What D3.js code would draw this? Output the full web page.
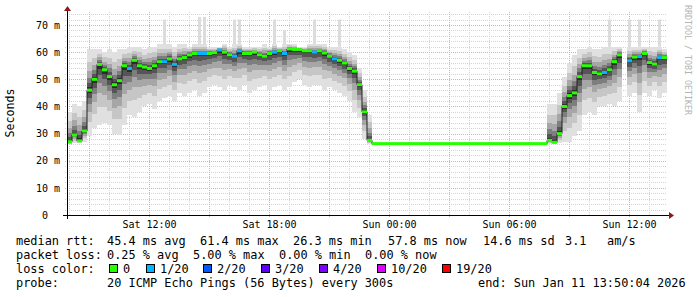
<!DOCTYPE html>
<html>
<head>
<meta charset="utf-8">
<script src="https://cdn.jsdelivr.net/npm/d3@7"></script>
<style>
  body { margin: 0; background: #fff; }
  svg text { font-family: "DejaVu Sans Mono", monospace; }
</style>
</head>
<body>
<div id="smokeGraph"></div>
<script>
/*Values, one entry per 15 minute step*/
const stepStart = new Date(2026, 0, 10, 7, 54);
const stepMinutes = 15;

/*median rtt in ms (null = no data)*/
const medianRtt = [
  27, 29.5, 27.3, 31, 46, 50, 55.5, 53.5, 51, 48,
  49.5, 55, 54, 57, 55, 54.5, 54, 55, 56.5, 56.5,
  57.5, 55.5, 57.5, 58, 59, 59.5, 59.5, 59.5, 59.5, 59.8,
  60.8, 60, 59, 58.5, 60.5, 59.5, 59.5, 60, 59, 58.5,
  59.5, 60, 60.5, 59.5, 61.2, 61, 61, 60.5, 60.5, 60,
  60.5, 59.7, 58.5, 57.5, 57, 56, 54, 53, 48, 38,
  27.5, 26.3, 26.3, 26.3, 26.3, 26.3, 26.3, 26.3, 26.3, 26.3,
  26.3, 26.3, 26.3, 26.3, 26.3, 26.3, 26.3, 26.3, 26.3, 26.3,
  26.3, 26.3, 26.3, 26.3, 26.3, 26.3, 26.3, 26.3, 26.3, 26.3,
  26.3, 26.3, 26.3, 26.3, 26.3, 26.3, 27.5, 26.8, 30, 40,
  44, 45, 51, 55, 55, 52.5, 52, 52.5, 53.5, 56.5,
  59, null, 56.8, 58.2, 58.4, 59.5, 56.2, 55.6, 58, 58
];

/*lowest ping of each step (bottom of the smoke)*/
const smokeLow = [
  26, 26.5, 26.5, 27, 29, 32, 33, 34, 33, 30,
  29.5, 33, 37, 36, 38, 40, 41, 39, 42, 43,
  44, 42, 45, 44, 45, 46, 44, 45, 47, 48,
  47, 46, 48, 47, 46, 48, 45, 46, 47, 48,
  46, 47, 48, 46, 47, 49, 50, 48, 47, 48,
  48, 46, 47, 46, 45, 44, 42, 38, 36, 28,
  26.3, null, null, null, null, null, null, null, null, null,
  null, null, null, null, null, null, null, null, null, null,
  null, null, null, null, null, null, null, null, null, null,
  null, null, null, null, null, null, 26.3, 26.3, 26.5, 27,
  27, 29, 31, 37, 38, 37, 40, 40, 41, 40,
  42, null, 44, 45, 38, 45, 44, 46, 43, 45
];

/*highest regular ping of each step (top of the smoke)*/
const smokeHigh = [
  38, 41, 40, 42, 61, 61, 61, 60, 61, 60,
  61, 61, 62, 62, 62, 61, 62, 62, 63, 63,
  63, 62, 63, 63, 62, 63, 63, 63, 62, 62,
  62, 63, 62, 63, 63, 62, 62, 62, 62, 63,
  62, 63, 62, 63, 63, 63, 62, 62, 63, 63,
  63, 63, 62, 62, 62, 61, 60, 59, 54, 46,
  37, null, null, null, null, null, null, null, null, null,
  null, null, null, null, null, null, null, null, null, null,
  null, null, null, null, null, null, null, null, null, null,
  null, null, null, null, null, null, 41, 41, 45, 51,
  56, 59, 61, 61, 62, 61, 61, 62, 62, 62,
  62, null, 62, 62, 62, 62, 62, 62, 62, 61
];

/*packets lost out of 20 in each step*/
const lostPings = [
  0, 0, 0, 0, 0, 0, 0, 0, 0, 0,
  0, 0, 1, 0, 0, 0, 0, 0, 0, 1,
  0, 1, 0, 0, 0, 0, 1, 1, 0, 0,
  1, 0, 0, 1, 1, 0, 0, 0, 0, 0,
  0, 1, 0, 1, 0, 0, 0, 0, 0, 1,
  0, 0, 0, 1, 0, 0, 0, 0, 0, 0,
  0, 0, 0, 0, 0, 0, 0, 0, 0, 0,
  0, 0, 0, 0, 0, 0, 0, 0, 0, 0,
  0, 0, 0, 0, 0, 0, 0, 0, 0, 0,
  0, 0, 0, 0, 0, 0, 0, 0, 0, 0,
  0, 0, 0, 0, 0, 0, 0, 1, 0, 0,
  0, 0, 1, 0, 1, 0, 0, 0, 1, 0
];

/*single outlier pings that reach far above the smoke*/
const spikeSteps = [19, 26, 27, 33, 34, 41, 43, 49, 54, 108, 112, 114, 118];
const spikeTops  = [72, 73, 73, 72, 72, 72, 68, 72, 72, 72, 72, 72, 72];

/*loss colour legend*/
const lossLabels = ["0", "1/20", "2/20", "3/20", "4/20", "10/20", "19/20"];
const lossColors = ["#26ff00", "#00b8ff", "#0059ff", "#5e00ff", "#7e00ff", "#dd00ff", "#ff0000"];

/*y tick values (ms)*/
const yTickValues = [0, 10, 20, 30, 40, 50, 60, 70];
/*x tick labels*/
const xLabelTimes = [
  new Date(2026, 0, 10, 12), new Date(2026, 0, 10, 18),
  new Date(2026, 0, 11, 0), new Date(2026, 0, 11, 6), new Date(2026, 0, 11, 12)
];

/*legend text rows*/
const rttRow = ["median rtt:", "45.4 ms avg", "61.4 ms max", "26.3 ms min", "57.8 ms now", "14.6 ms sd", "3.1", "am/s"];
const lossRow = ["packet loss:", "0.25 % avg", "5.00 % max", "0.00 % min", "0.00 % now"];
const probeRow = ["probe:", "20 ICMP Echo Pings (56 Bytes) every 300s", "end: Sun Jan 11 13:50:04 2026"];

/*--------- layout ---------*/
const chartWidth = 697;
const chartHeight = 297;
const plotLeft = 67, plotRight = 667, plotTop = 12, plotBottom = 215;
const stepPx = 5;

const svg = d3.select("#smokeGraph")
  .append("svg")
  .attr("width", chartWidth)
  .attr("height", chartHeight);

svg.append("rect").attr("width", chartWidth).attr("height", chartHeight).attr("fill", "#fff");

const xScale = d3.scaleTime()
  .domain([stepStart, new Date(stepStart.getTime() + 30 * 3600 * 1000)])
  .range([plotLeft, plotRight]);

const yScale = d3.scaleLinear()
  .domain([0, 74.8])
  .range([plotBottom, plotTop]);

const stepTime = (i) => new Date(stepStart.getTime() + i * stepMinutes * 60000);

/*Grid: minor first, then major*/
const grid = svg.append("g").attr("id", "grid");

const hourTicks = xScale.ticks(d3.timeHour.every(1));
grid.selectAll("line.vminor")
  .data(hourTicks.filter(t => t.getHours() % 3 != 0))
  .enter().append("line")
  .attr("x1", d => Math.round(xScale(d)) + 0.5).attr("x2", d => Math.round(xScale(d)) + 0.5)
  .attr("y1", plotTop).attr("y2", plotBottom)
  .attr("stroke", "#d4d4d4").attr("stroke-dasharray", "1,1");

const msMinor = d3.range(2, 75, 2).filter(v => v % 10 != 0);
grid.selectAll("line.hminor")
  .data(msMinor)
  .enter().append("line")
  .attr("x1", plotLeft - 2).attr("x2", plotRight)
  .attr("y1", d => Math.round(yScale(d)) + 0.5).attr("y2", d => Math.round(yScale(d)) + 0.5)
  .attr("stroke", "#d4d4d4").attr("stroke-dasharray", "1,1");

grid.selectAll("line.vmajor")
  .data(hourTicks.filter(t => t.getHours() % 3 == 0))
  .enter().append("line")
  .attr("x1", d => Math.round(xScale(d)) + 0.5).attr("x2", d => Math.round(xScale(d)) + 0.5)
  .attr("y1", plotTop).attr("y2", plotBottom + 2)
  .attr("stroke", "#f0a4a4").attr("stroke-dasharray", "1,1");

grid.selectAll("line.hmajor")
  .data(yTickValues.filter(v => v > 0))
  .enter().append("line")
  .attr("x1", plotLeft - 2).attr("x2", plotRight)
  .attr("y1", d => Math.round(yScale(d)) + 0.5).attr("y2", d => Math.round(yScale(d)) + 0.5)
  .attr("stroke", "#f0a4a4").attr("stroke-dasharray", "1,1");

/*Smoke: stacked grey layers, outer ones lighter*/
const smokeLayers = [
  { f: 1.0, c: "#e0e0e0" },
  { f: 0.7, c: "#c6c6c6" },
  { f: 0.47, c: "#a6a6a6" },
  { f: 0.3, c: "#7e7e7e" },
  { f: 0.17, c: "#555555" },
  { f: 0.07, c: "#2c2c2c" }
];
const steps = d3.range(medianRtt.length).filter(i => smokeLow[i] != null && medianRtt[i] != null);
const smoke = svg.append("g").attr("id", "smoke");

/*outlier spikes sit under the regular smoke*/
smoke.selectAll("rect.spike")
  .data(spikeSteps)
  .enter().append("rect")
  .attr("x", (d) => xScale(stepTime(d)) + 1)
  .attr("width", 3)
  .attr("y", (d, k) => yScale(spikeTops[k]))
  .attr("height", (d, k) => yScale(smokeHigh[d]) - yScale(spikeTops[k]))
  .attr("fill", "#dcdcdc");

smokeLayers.forEach(layer => {
  smoke.append("g")
    .selectAll("rect")
    .data(steps)
    .enter().append("rect")
    .attr("x", i => xScale(stepTime(i)))
    .attr("width", stepPx)
    .attr("y", i => yScale(medianRtt[i] + layer.f * (smokeHigh[i] - medianRtt[i])))
    .attr("height", i => yScale(medianRtt[i] - layer.f * (medianRtt[i] - smokeLow[i]))
                       - yScale(medianRtt[i] + layer.f * (smokeHigh[i] - medianRtt[i])))
    .attr("fill", layer.c)
    .attr("shape-rendering", "crispEdges");
});

/*Median line: thin dark connector + loss coloured step segments*/
const medPoints = medianRtt.map((v, i) => ({ t: stepTime(i), v: v }));
medPoints.push({ t: stepTime(medianRtt.length), v: medianRtt[medianRtt.length - 1] });

const medLine = d3.line()
  .defined(d => d.v != null)
  .x(d => xScale(d.t))
  .y(d => yScale(d.v))
  .curve(d3.curveStepAfter);

svg.append("path")
  .datum(medPoints)
  .attr("d", medLine)
  .attr("fill", "none")
  .attr("stroke", "#202020")
  .attr("stroke-width", 1);

svg.append("g")
  .attr("id", "median")
  .selectAll("line")
  .data(d3.range(medianRtt.length).filter(i => medianRtt[i] != null))
  .enter().append("line")
  .attr("x1", i => xScale(stepTime(i)))
  .attr("x2", i => xScale(stepTime(i + 1)))
  .attr("y1", i => yScale(medianRtt[i]))
  .attr("y2", i => yScale(medianRtt[i]))
  .attr("stroke", i => lossColors[lostPings[i]])
  .attr("stroke-width", 3);

/*Axes*/
const xAxis = d3.axisBottom(xScale)
  .tickValues(xLabelTimes)
  .tickFormat(d3.timeFormat("%a %H:%M"))
  .tickSize(0)
  .tickPadding(6);

const yAxis = d3.axisLeft(yScale)
  .tickValues(yTickValues)
  .tickFormat(v => v == 0 ? "0\u00a0\u00a0" : v + " m")
  .tickSize(0)
  .tickPadding(7);

const xg = svg.append("g")
  .attr("transform", "translate(0," + plotBottom + ")")
  .attr("id", "x-axis")
  .call(xAxis);
const yg = svg.append("g")
  .attr("transform", "translate(" + plotLeft + ",0)")
  .attr("id", "y-axis")
  .call(yAxis);

[xg, yg].forEach(g => {
  g.select(".domain").remove();
  g.selectAll("text")
    .style("font-family", "DejaVu Sans Mono, monospace")
    .style("font-size", "10px")
    .attr("fill", "#000");
});

/*axis lines with dark red arrow heads*/
svg.append("line")
  .attr("x1", plotLeft - 4).attr("x2", plotRight + 2)
  .attr("y1", plotBottom + 0.5).attr("y2", plotBottom + 0.5)
  .attr("stroke", "#000");
svg.append("line")
  .attr("x1", plotLeft + 0.5).attr("x2", plotLeft + 0.5)
  .attr("y1", plotBottom + 4).attr("y2", plotTop - 1)
  .attr("stroke", "#000");
svg.append("path")
  .attr("d", `M${plotRight + 2},${plotBottom - 3} L${plotRight + 7},${plotBottom + 0.5} L${plotRight + 2},${plotBottom + 4} Z`)
  .attr("fill", "#8b1a1a");
svg.append("path")
  .attr("d", `M${plotLeft - 3},${plotTop - 1} L${plotLeft + 0.5},${plotTop - 6} L${plotLeft + 4},${plotTop - 1} Z`)
  .attr("fill", "#8b1a1a");

/*Axis title and watermark*/
svg.append("text")
  .text("Seconds")
  .attr("transform", "translate(14,113) rotate(-90)")
  .attr("text-anchor", "middle")
  .style("font-size", "11.6px");

svg.append("text")
  .text("RRDTOOL / TOBI OETIKER")
  .attr("transform", "translate(685,5) rotate(90)")
  .style("font-size", "8.3px")
  .attr("fill", "#b4b4b4");

/*Legend rows*/
const legend = svg.append("g").attr("id", "legend").style("font-size", "11.9px");
const rowXs = [16, 107, 200, 293, 388, 483, 565, 607];
const lossXs = [16, 107, 193, 279, 365];
const probeXs = [16, 107, 478];

const putRow = (texts, xs, y) => {
  legend.selectAll(null)
    .data(texts)
    .enter().append("text")
    .attr("x", (d, k) => xs[k])
    .attr("y", y)
    .text(d => d);
};
putRow(rttRow, rowXs, 245);
putRow(lossRow, lossXs, 259);
putRow(["loss color:"], [16], 273);
putRow(probeRow, probeXs, 287);

const swatchXs = [109, 146, 203, 261, 319, 377, 442];
legend.selectAll("rect.swatch")
  .data(lossColors)
  .enter().append("rect")
  .attr("x", (d, k) => swatchXs[k] + 0.5)
  .attr("y", 264.5)
  .attr("width", 8)
  .attr("height", 8)
  .attr("fill", d => d)
  .attr("stroke", "#000");
legend.selectAll("text.losslab")
  .data(lossLabels)
  .enter().append("text")
  .attr("x", (d, k) => swatchXs[k] + 14)
  .attr("y", 273)
  .text(d => d);
</script>
</body>
</html>
